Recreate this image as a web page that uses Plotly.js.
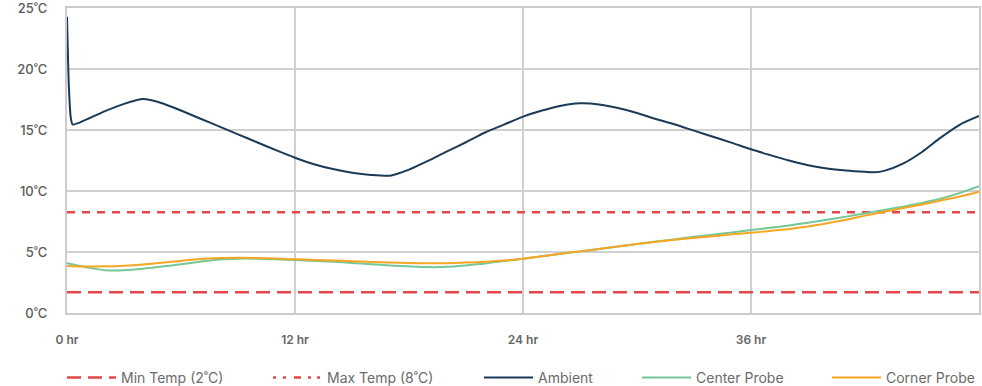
<!DOCTYPE html>
<html>
<head>
<meta charset="utf-8">
<script src="https://cdn.plot.ly/plotly-3.0.1.min.js"></script>
<style>
  html, body { margin: 0; padding: 0; background: #ffffff; }
  #chart { width: 982px; height: 386px; }
</style>
</head>
<body>
<div id="chart"></div>
<script>
// ---- data ----
const ambientHours = [0, 0.1, 0.2, 0.3, 1, 2, 3, 4, 5, 6, 7, 8, 9, 10, 11, 12, 13, 14, 15, 16, 17, 18, 19, 20, 21, 22, 23, 24, 25, 26, 27, 28, 29, 30, 31, 32, 33, 34, 35, 36, 37, 38, 39, 40, 41, 42, 42.5, 43, 44, 45, 46, 47, 48];
const ambientTemp  = [24.3, 18.5, 16.0, 15.45, 15.85, 16.55, 17.15, 17.54, 17.2, 16.6, 15.95, 15.3, 14.65, 14.0, 13.35, 12.73, 12.2, 11.8, 11.5, 11.32, 11.26, 11.75, 12.47, 13.25, 14.0, 14.8, 15.45, 16.1, 16.6, 17.0, 17.19, 17.1, 16.8, 16.4, 15.9, 15.45, 14.95, 14.45, 13.95, 13.42, 12.95, 12.5, 12.12, 11.85, 11.68, 11.57, 11.53, 11.65, 12.25, 13.2, 14.4, 15.45, 16.15];

const probeHours = [0, 1, 2, 3, 4, 5, 6, 7, 8, 9, 10, 11, 12, 13, 14, 15, 16, 17, 18, 19, 20, 21, 22, 23, 24, 25, 26, 27, 28, 29, 30, 31, 32, 33, 34, 35, 36, 37, 38, 39, 40, 41, 42, 43, 44, 45, 46, 47, 48];
const centerTemp = [4.07, 3.75, 3.5, 3.5, 3.62, 3.8, 4.0, 4.2, 4.38, 4.45, 4.45, 4.4, 4.34, 4.27, 4.2, 4.1, 4.0, 3.9, 3.82, 3.76, 3.78, 3.9, 4.05, 4.25, 4.45, 4.65, 4.85, 5.05, 5.25, 5.45, 5.65, 5.85, 6.05, 6.25, 6.42, 6.6, 6.8, 6.98, 7.18, 7.4, 7.65, 7.9, 8.17, 8.45, 8.72, 9.02, 9.38, 9.85, 10.4];
const cornerTemp = [3.85, 3.8, 3.82, 3.88, 3.98, 4.12, 4.27, 4.42, 4.5, 4.52, 4.5, 4.46, 4.4, 4.35, 4.3, 4.24, 4.18, 4.13, 4.09, 4.07, 4.08, 4.13, 4.2, 4.3, 4.45, 4.65, 4.85, 5.05, 5.25, 5.45, 5.65, 5.83, 6.0, 6.15, 6.3, 6.45, 6.58, 6.72, 6.88, 7.08, 7.35, 7.65, 7.98, 8.3, 8.6, 8.9, 9.22, 9.55, 9.95];

const limitHours = [0, 48];
const minTempLine = [1.7, 1.7];
const maxTempLine = [8.25, 8.25];

const seriesNames = ["Min Temp (2˚C)", "Max Temp (8˚C)", "Ambient", "Center Probe", "Corner Probe"];

const yTickVals = [0, 5, 10, 15, 20, 25];
const yTickText = ["0˚C", "5˚C", "10˚C", "15˚C", "20˚C", "25˚C"];
const xTickVals = [0, 12, 24, 36];
const xTickText = ["0 hr", "12 hr", "24 hr", "36 hr"];

// ---- chart ----
const RED = "#e2474a";
const traces = [
  { x: limitHours, y: minTempLine, name: seriesNames[0], mode: "lines", legend: "legend",
    line: { color: RED, width: 2.5, dash: "14px,7px" }, hoverinfo: "skip" },
  { x: limitHours, y: maxTempLine, name: seriesNames[1], mode: "lines", showlegend: false,
    line: { color: RED, width: 2.5, dash: "8px,7px" }, hoverinfo: "skip" },
  { x: [null], y: [null], name: seriesNames[1], mode: "lines", legend: "legend2",
    line: { color: RED, width: 2.5, dash: "3px,7px,3px,8px,7px,7px,3px,6px" } },
  { x: ambientHours, y: ambientTemp, name: seriesNames[2], mode: "lines", legend: "legend3",
    line: { color: "#1b3a57", width: 2, shape: "spline", smoothing: 0.6 } },
  { x: probeHours, y: centerTemp, name: seriesNames[3], mode: "lines", legend: "legend4",
    line: { color: "#74c796", width: 2, shape: "spline", smoothing: 0.8 } },
  { x: probeHours, y: cornerTemp, name: seriesNames[4], mode: "lines", legend: "legend5",
    line: { color: "#f6a623", width: 2, shape: "spline", smoothing: 0.8 } }
];

function legendAt(px) {
  return {
    orientation: "h", x: (px - 5 - 67) / 912, xanchor: "left",
    y: (313 - 378) / 305, yanchor: "middle",
    itemwidth: 49, font: { size: 14, color: "#6b6b6b" },
    bgcolor: "rgba(0,0,0,0)", borderwidth: 0
  };
}

const layout = {
  width: 982, height: 386,
  margin: { l: 67, r: 3, t: 8, b: 73, autoexpand: false },
  paper_bgcolor: "#ffffff", plot_bgcolor: "#ffffff",
  font: { family: "Inter, 'Noto Sans', sans-serif", color: "#666666" },
  showlegend: true,
  legend: legendAt(67),
  legend2: legendAt(273),
  legend3: legendAt(484),
  legend4: legendAt(642),
  legend5: legendAt(832),
  xaxis: {
    range: [0, 48], tickvals: xTickVals, ticktext: xTickText,
    showgrid: true, gridcolor: "#d0d0d0", gridwidth: 2,
    showline: true, linecolor: "#cccccc", linewidth: 2, mirror: true,
    zeroline: false, ticks: "", ticklabelstandoff: 15, ticklabeloverflow: "allow",
    tickfont: { size: 12, color: "#666666", weight: 600 }
  },
  yaxis: {
    range: [-0.005, 25.01], tickvals: yTickVals, ticktext: yTickText,
    showgrid: true, gridcolor: "#d0d0d0", gridwidth: 2,
    showline: true, linecolor: "#cccccc", linewidth: 2, mirror: true,
    zeroline: false, ticks: "", ticklabelstandoff: 15, ticklabeloverflow: "allow",
    tickfont: { size: 13, color: "#5a5a5a", weight: 500 }
  }
};

Plotly.newPlot("chart", traces, layout, { displayModeBar: false, staticPlot: true });
</script>
</body>
</html>
